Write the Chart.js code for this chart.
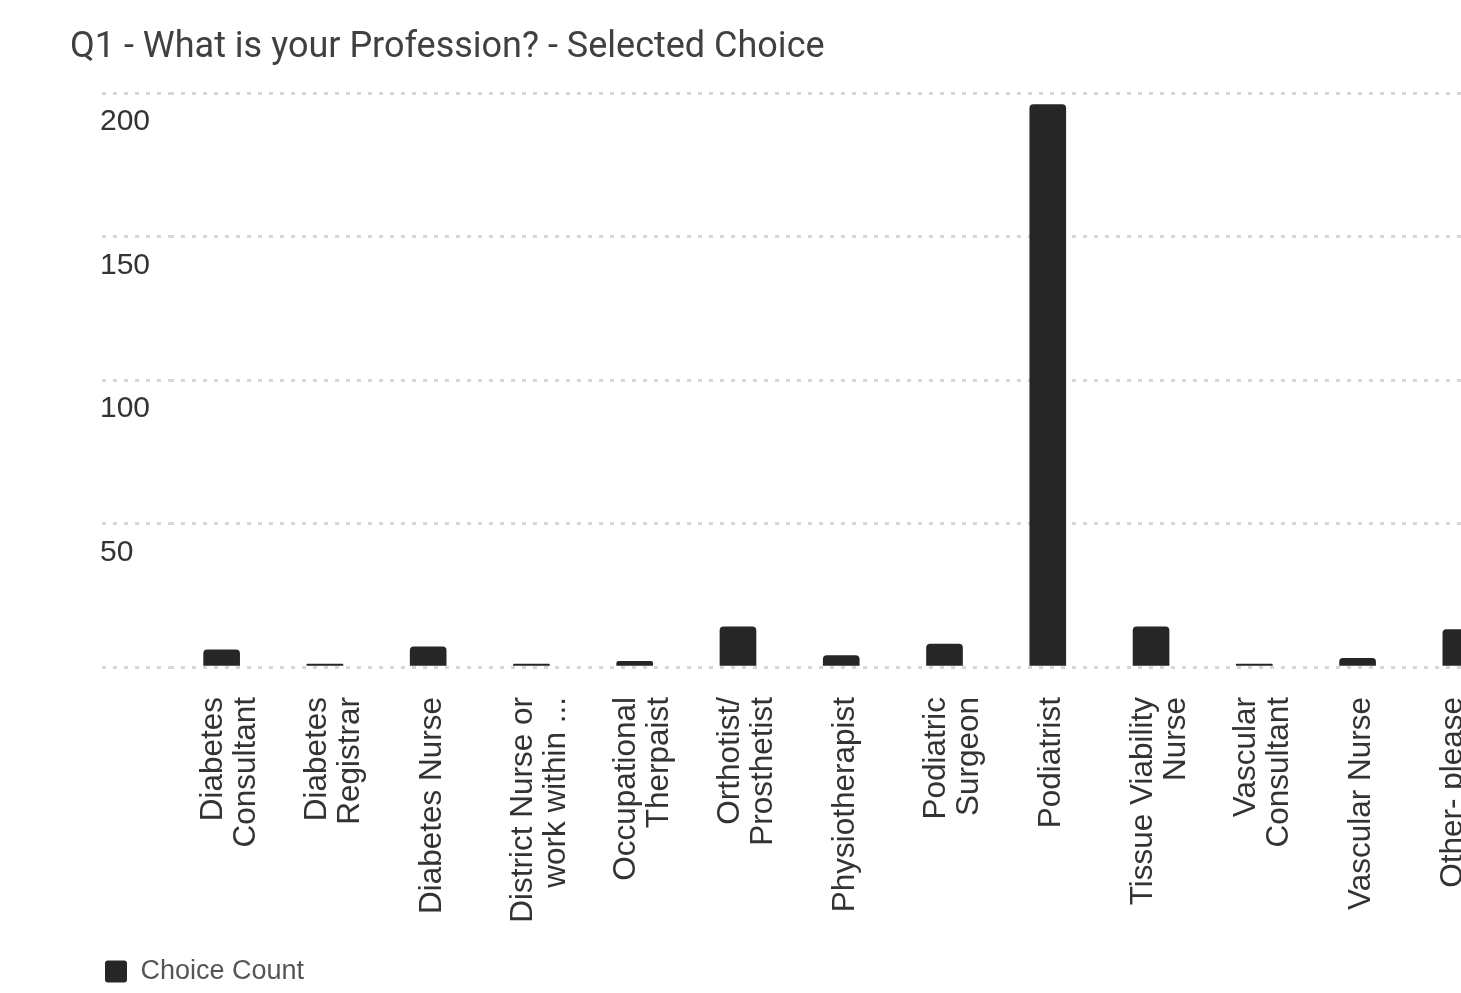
<!DOCTYPE html>
<html>
<head>
<meta charset="utf-8">
<title>Q1 - What is your Profession?</title>
<script src="https://cdn.jsdelivr.net/npm/chart.js@4.4.1/dist/chart.umd.min.js"></script>
<style>
  html, body { margin: 0; padding: 0; background: #fff; overflow: hidden; }
  #wrap { position: relative; width: 1549px; height: 995px; }
</style>
</head>
<body>
<div id="wrap"><canvas id="mycanvas"></canvas></div>
<script>
var categories = [
    ["Diabetes", "Consultant"],
    ["Diabetes", "Registrar"],
    "Diabetes Nurse",
    ["District Nurse or", "work within ..."],
    ["Occupational", "Therpaist"],
    ["Orthotist/", "Prosthetist"],
    "Physiotherapist",
    ["Podiatric", "Surgeon"],
    "Podiatrist",
    ["Tissue Viability", "Nurse"],
    ["Vascular", "Consultant"],
    "Vascular Nurse",
    ["Other- please", "specify"]
];
var choiceCount = [6, 1, 7, 1, 2, 14, 4, 8, 196, 14, 1, 3, 13];
var yTicks = [0, 50, 100, 150, 200];

var labelFont = "'Liberation Sans', Arial, sans-serif";

// wrapped x labels: center the block of lines on the tick
var centerLines = {
    id: 'centerLines',
    beforeDraw: function(chart) {
        var items = chart.scales.x.getLabelItems(chart.chartArea);
        items.forEach(function(item) {
            if (item._moved) return;
            var lines = Array.isArray(item.label) ? item.label.length : 1;
            item.options.translation[0] += 4 - (lines - 1) * 12;
            item._moved = true;
        });
    }
};

var ctx = document.getElementById('mycanvas');
var barGraph = new Chart(ctx, {
    type: 'bar',
    data: {
        labels: categories,
        datasets: [{
            label: 'Choice Count',
            data: choiceCount,
            backgroundColor: '#262626',
            borderColor: '#262626',
            barThickness: 36,
            borderRadius: { topLeft: 4, topRight: 4 },
            borderSkipped: 'start'
        }]
    },
    options: {
        responsive: true,
        maintainAspectRatio: false,
        animation: false,
        layout: { padding: { left: 70, right: 0, top: 0, bottom: 0 } },
        plugins: {
            title: {
                display: true,
                text: 'Q1 - What is your Profession? - Selected Choice',
                align: 'start',
                color: '#404040',
                font: { family: 'Roboto', size: 36, weight: 'normal', lineHeight: 1 },
                padding: { top: 30, bottom: 27 }
            },
            legend: {
                position: 'bottom',
                align: 'start',
                labels: {
                    boxWidth: 22,
                    boxHeight: 22,
                    padding: 35,
                    useBorderRadius: true,
                    borderRadius: 3,
                    color: '#555',
                    font: { family: labelFont, size: 27 }
                }
            },
            tooltip: { enabled: false }
        },
        scales: {
            x: {
                grid: { display: false },
                border: { display: false },
                afterFit: function(scale) { scale.height = 256; },
                ticks: {
                    autoSkip: false,
                    minRotation: 90,
                    maxRotation: 90,
                    padding: 22,
                    color: '#333',
                    font: { family: labelFont, size: 31.5, lineHeight: 1.05 }
                }
            },
            y: {
                min: yTicks[0],
                max: yTicks[yTicks.length - 1],
                border: { display: false, dash: [4, 7] },
                afterFit: function(scale) { scale.width = 100; },
                afterBuildTicks: function(scale) {
                    scale.ticks = yTicks.map(function(v) { return { value: v }; });
                },
                grid: {
                    color: '#d6d6d6',
                    lineWidth: 3,
                    tickLength: 68,
                    tickColor: '#d6d6d6',
                    tickWidth: 3,
                    tickBorderDash: [4, 7]
                },
                ticks: {
                    mirror: true,
                    padding: -70,
                    labelOffset: 29,
                    color: '#333',
                    font: { family: labelFont, size: 30 },
                    callback: function(value) { return value === 0 ? '' : value; }
                }
            }
        }
    },
    plugins: [centerLines]
});
</script>
</body>
</html>
